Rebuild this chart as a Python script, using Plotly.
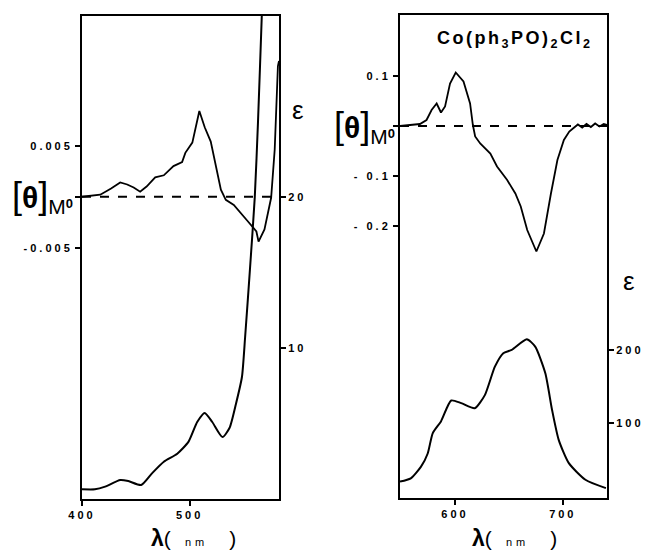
import plotly.graph_objects as go

# ---------------- data ----------------
# Left panel: CD spectrum (theta_M) and absorption (epsilon)
cd1_wl = [400, 410, 417, 427, 435.5, 442, 448, 454, 460, 468, 476, 485, 493, 496,
          502.5, 509, 514, 519.6, 524, 529, 533.6, 541, 554, 562, 564, 569.5,
          575.7, 579, 582, 583]
cd1_val = [0.0, 0.0001, 0.0002, 0.0008, 0.0014, 0.0012, 0.0009, 0.0005, 0.0010,
           0.0019, 0.0021, 0.0030, 0.0034, 0.0043, 0.0053, 0.0084, 0.0068, 0.0054,
           0.0033, 0.0007, -0.0003, -0.0008, -0.0024, -0.0034, -0.0044, -0.0032,
           -0.0001, 0.0046, 0.0128, 0.0133]
ab1_wl = [400, 412, 421.5, 435.5, 443, 455, 465, 476, 488.5, 499, 507, 514, 521,
          530.5, 537, 543, 548.6, 551.5, 556, 560.5, 563.5, 567, 569]
ab1_val = [0.64, 0.64, 0.82, 1.26, 1.19, 0.93, 1.7, 2.47, 3.0, 3.8, 5.1, 5.7, 5.1,
           4.1, 4.7, 6.3, 8.1, 10.7, 15.2, 20.0, 25.0, 32.0, 36.0]

# Right panel: Co(ph3PO)2Cl2
cd2_wl = [549, 560, 567.5, 573.6, 578.3, 583, 587, 590.8, 595.4, 600.7, 607.9, 614,
          616.6, 618.7, 623.4, 632.8, 639, 648.4, 656, 661, 667, 675.5, 682.5,
          689, 695, 701, 706, 710, 714, 718, 722, 726, 730, 734, 738, 741]
cd2_val = [0.0, 0.002, 0.004, 0.012, 0.032, 0.045, 0.027, 0.039, 0.085, 0.107,
           0.089, 0.045, 0.002, -0.021, -0.035, -0.055, -0.081, -0.108, -0.135,
           -0.161, -0.208, -0.251, -0.215, -0.135, -0.068, -0.028, -0.011, -0.004,
           0.003, -0.003, 0.004, -0.002, 0.005, -0.001, 0.004, 0.002]
ab2_wl = [549, 559, 568.5, 574.7, 579.4, 587, 596.5, 605.8, 618.3, 627.7, 637,
          644.8, 652.6, 666.6, 674.4, 683.8, 690, 696.2, 705.6, 721, 740]
ab2_val = [19.6, 24, 40, 58, 86, 102, 130.6, 127, 120, 138, 177, 195.5, 200,
           214.6, 204.5, 168, 118, 76.7, 44.8, 22, 10.5]

x1_ticks = [400, 500]
x2_ticks = [600, 700]
cd1_ticks = [0.005, 0, -0.005]
cd1_ticktext = ["0.005", "", "-0.005"]
eps1_ticks = [10, 20]
cd2_ticks = [0.1, 0, -0.1, -0.2]
cd2_ticktext = ["0.1", "", "- 0.1", "- 0.2"]
eps2_ticks = [100, 200]

title_text = "Co(ph<sub>3</sub>PO)<sub>2</sub>Cl<sub>2</sub>"

# ---------------- figure ----------------
W, H = 648, 553
def fx(px): return px / W
def fy(py): return 1 - py / H

def spaced(s):
    return "<span style='letter-spacing:3px'>" + str(s) + "</span>" if s != "" else ""

FONT = "Liberation Sans"
tickfont = dict(family=FONT, size=11, color="black", weight="bold")

fig = go.Figure()
fig.add_trace(go.Scatter(x=cd1_wl, y=cd1_val, mode="lines", line=dict(color="black", width=1.8),
                         xaxis="x", yaxis="y", showlegend=False))
fig.add_trace(go.Scatter(x=ab1_wl, y=ab1_val, mode="lines", line=dict(color="black", width=2, shape="spline", smoothing=0.6),
                         xaxis="x", yaxis="y2", showlegend=False))
fig.add_trace(go.Scatter(x=cd2_wl, y=cd2_val, mode="lines", line=dict(color="black", width=1.8),
                         xaxis="x2", yaxis="y3", showlegend=False))
fig.add_trace(go.Scatter(x=ab2_wl, y=ab2_val, mode="lines", line=dict(color="black", width=2, shape="spline", smoothing=0.6),
                         xaxis="x2", yaxis="y4", showlegend=False))

axis_common = dict(showgrid=False, zeroline=False, showline=True, linecolor="black",
                   linewidth=2, ticks="outside", ticklen=5, tickwidth=1.5,
                   tickcolor="black", tickfont=tickfont, automargin=False)

fig.update_layout(
    width=W, height=H, margin=dict(l=0, r=0, t=0, b=0, autoexpand=False),
    paper_bgcolor="white", plot_bgcolor="white",
    xaxis=dict(domain=[fx(82), fx(279)], range=[400, 583], anchor="y",
               tickvals=x1_ticks, ticktext=[spaced(v) for v in x1_ticks],
               mirror=True, **axis_common),
    yaxis=dict(domain=[fy(499), fy(16)], range=[-0.0296, 0.0177], anchor="x",
               tickvals=cd1_ticks, ticktext=[spaced(t) for t in cd1_ticktext],
               mirror=True, **axis_common),
    yaxis2=dict(range=[0, 32], overlaying="y", side="right", anchor="x",
                tickvals=eps1_ticks, ticktext=[spaced(v) for v in eps1_ticks],
                **axis_common),
    xaxis2=dict(domain=[fx(400), fx(607)], range=[549, 741], anchor="y3",
                tickvals=x2_ticks, ticktext=[spaced(v) for v in x2_ticks],
                mirror=True, **axis_common),
    yaxis3=dict(domain=[fy(498), fy(15)], range=[-0.744, 0.222], anchor="x2",
                tickvals=cd2_ticks, ticktext=[spaced(t) for t in cd2_ticktext],
                mirror=True, **axis_common),
    yaxis4=dict(range=[-3, 659], overlaying="y3", side="right", anchor="x2",
                tickvals=eps2_ticks, ticktext=[spaced(v) for v in eps2_ticks],
                **axis_common),
)

# dashed zero baselines
fig.add_shape(type="line", xref="x domain", yref="y", x0=0, x1=1, y0=0, y1=0,
              line=dict(color="black", width=1.8, dash="dash"))
fig.add_shape(type="line", xref="x2 domain", yref="y3", x0=0, x1=1, y0=0, y1=0,
              line=dict(color="black", width=1.8, dash="dash"))

ann_font = dict(family=FONT, color="black")
theta_label = ("<span style='font-size:36px'>[</span><b>θ</b>"
               "<span style='font-size:36px'>]</span><sub>M</sub>"
               "<span style='font-size:13px'><b>0</b></span>")
def add_text(px, py, text, size):
    fig.add_annotation(x=fx(px), y=fy(py), xref="paper", yref="paper", text=text,
                       xanchor="center", yanchor="middle", showarrow=False,
                       font=dict(size=size, **ann_font))

add_text(42, 197, theta_label, 30)
add_text(365, 126, theta_label, 30)
add_text(298, 110, "ε", 26)
add_text(629, 281, "ε", 26)
lam = ("<b>λ</b><span style='font-size:21px'>(</span>"
       "<span style='font-size:11px;letter-spacing:4px'>  nm   </span>"
       "<span style='font-size:21px'>)</span>")
add_text(193, 538, lam, 23)
add_text(514, 538, lam, 23)
add_text(515, 40, "<span style='letter-spacing:2.5px'><b>" + title_text + "</b></span>", 18)

fig.write_html("out.html")
